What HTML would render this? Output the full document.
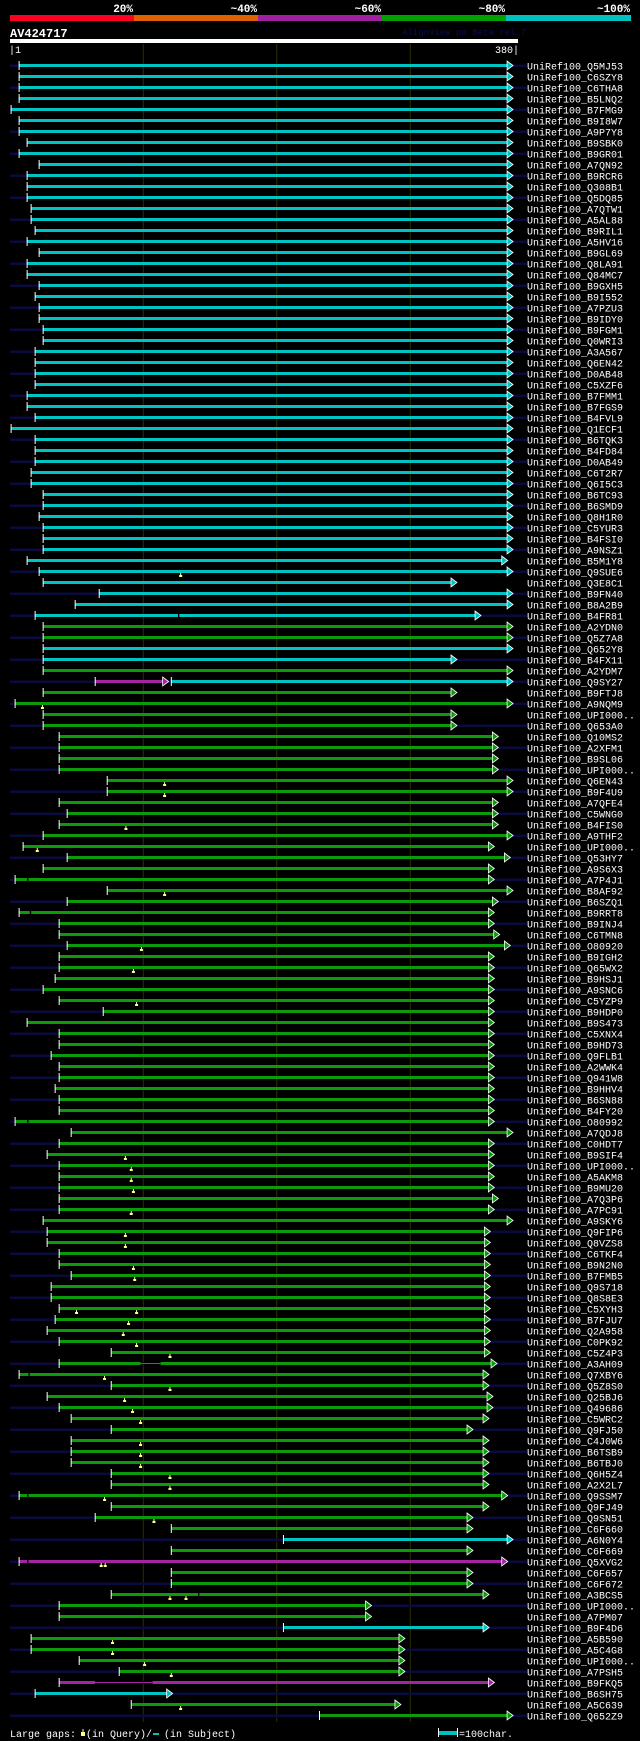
<!DOCTYPE html>
<html><head><meta charset="utf-8"><title>AV424717 alignment</title>
<style>
html,body{margin:0;padding:0;background:#000;}
svg{display:block;}
text{font-family:"Liberation Mono","DejaVu Sans Mono",monospace;}
</style></head>
<body>
<svg id="chart" width="640" height="1741" viewBox="0 0 640 1741" xmlns="http://www.w3.org/2000/svg">
<rect x="0" y="0" width="640" height="1741" fill="#000"/>
<g>
<rect x="10" y="15" width="124" height="6" fill="#ff0022"/>
<rect x="134" y="15" width="124" height="6" fill="#e06000"/>
<rect x="258" y="15" width="124" height="6" fill="#a020a0"/>
<rect x="382" y="15" width="124" height="6" fill="#00a000"/>
<rect x="506" y="15" width="125" height="6" fill="#00c0c0"/>
<text x="133" y="12" fill="#fff" font-size="11" font-weight="bold" text-anchor="end">20%</text>
<text x="257" y="12" fill="#fff" font-size="11" font-weight="bold" text-anchor="end">~40%</text>
<text x="381" y="12" fill="#fff" font-size="11" font-weight="bold" text-anchor="end">~60%</text>
<text x="505" y="12" fill="#fff" font-size="11" font-weight="bold" text-anchor="end">~80%</text>
<text x="630" y="12" fill="#fff" font-size="11" font-weight="bold" text-anchor="end">~100%</text>
</g>
<text x="10" y="37" fill="#fff" font-size="12" font-weight="bold">AV424717</text>
<text x="402" y="35" fill="#0c0c50" font-size="9">AlignView.pm Beta rel.7</text>
<rect x="10" y="39" width="508" height="4" fill="#fff"/>
<text x="9" y="53" fill="#fff" font-size="10">|1</text>
<text x="519" y="53" fill="#fff" font-size="10" text-anchor="end">380|</text>
<g id="grid"></g>
<g id="rows"></g>
<g>
<text x="10" y="1737" fill="#fff" font-size="10">Large gaps:</text>
<rect x="81" y="1732" width="4" height="4" fill="#ffff80"/>
<rect x="82.5" y="1729" width="1" height="3" fill="#ffff80"/>
<text x="86" y="1737" fill="#fff" font-size="10">(in Query)/</text>
<rect x="153" y="1733" width="6" height="2" fill="#00c0c0"/>
<text x="164" y="1737" fill="#fff" font-size="10">(in Subject)</text>
<rect x="439" y="1731" width="18" height="4" fill="#00c0c0"/>
<rect x="438" y="1728" width="1" height="9" fill="#fff"/>
<rect x="457" y="1728" width="1" height="9" fill="#fff"/>
<text x="459" y="1737" fill="#fff" font-size="10">=100char.</text>
</g>
</svg>
<script>
const labels = ["Q5MJ53","C6SZY8","C6THA8","B5LNQ2","B7FMG9","B9I8W7","A9P7Y8","B9SBK0","B9GR01","A7QN92","B9RCR6","Q308B1","Q5DQ85","A7QTW1","A5AL88","B9RIL1","A5HV16","B9GL69","Q8LA91","Q84MC7","B9GXH5","B9I552","A7PZU3","B9IDY0","B9FGM1","Q0WRI3","A3A567","Q6EN42","D0AB48","C5XZF6","B7FMM1","B7FGS9","B4FVL9","Q1ECF1","B6TQK3","B4FD84","D0AB49","C6T2R7","Q6I5C3","B6TC93","B6SMD9","Q8H1R0","C5YUR3","B4FSI0","A9NSZ1","B5M1Y8","Q9SUE6","Q3E8C1","B9FN40","B8A2B9","B4FR81","A2YDN0","Q5Z7A8","Q652Y8","B4FX11","A2YDM7","Q9SY27","B9FTJ8","A9NQM9","UPI000..","Q653A0","Q10MS2","A2XFM1","B9SL06","UPI000..","Q6EN43","B9F4U9","A7QFE4","C5WNG0","B4FIS0","A9THF2","UPI000..","Q53HY7","A9S6X3","A7P4J1","B8AF92","B6SZQ1","B9RRT8","B9INJ4","C6TMN8","O80920","B9IGH2","Q65WX2","B9HSJ1","A9SNC6","C5YZP9","B9HDP0","B9S473","C5XNX4","B9HD73","Q9FLB1","A2WWK4","Q941W8","B9HHV4","B6SN88","B4FY20","O80992","A7QDJ8","C0HDT7","B9SIF4","UPI000..","A5AKM8","B9MU20","A7Q3P6","A7PC91","A9SKY6","Q9FIP6","Q8VZS8","C6TKF4","B9N2N0","B7FMB5","Q9S718","Q8S8E3","C5XYH3","B7FJU7","Q2A958","C0PK92","C5Z4P3","A3AH09","Q7XBY6","Q5Z8S0","Q25BJ6","Q49686","C5WRC2","Q9FJ50","C4J0W6","B6TSB9","B6TBJ0","Q6H5Z4","A2X2L7","Q9SSM7","Q9FJ49","Q9SN51","C6F660","A6N0Y4","C6F669","Q5XVG2","C6F657","C6F672","A3BCS5","UPI000..","A7PM07","B9F4D6","A5B590","A5C4G8","UPI000..","A7PSH5","B9FKQ5","B6SH75","A5C639","Q652Z9"];
const hitStart = [7,7,7,7,1,7,7,13,7,22,13,13,13,16,16,19,13,22,13,13,22,19,22,22,25,25,19,19,19,19,13,13,19,1,19,19,19,16,16,25,25,22,25,25,25,13,22,25,67,49,19,25,25,25,25,25,64,25,4,25,25,37,37,37,37,73,73,37,43,37,25,10,43,25,4,73,43,7,37,37,43,37,37,34,25,37,70,13,37,37,31,37,37,34,37,37,4,46,37,28,37,37,37,37,37,25,28,28,37,37,46,31,31,37,34,28,37,76,37,7,76,28,37,46,76,46,46,46,76,76,7,76,64,121,205,121,7,121,121,76,37,37,205,16,16,52,82,37,19,91,232];
const hitEnd = [377,377,377,377,377,377,377,377,377,377,377,377,377,377,377,377,377,377,377,377,377,377,377,377,377,377,377,377,377,377,377,377,377,377,377,377,377,377,377,377,377,377,377,377,377,373,377,335,377,377,353,377,377,377,335,377,119,335,377,335,335,366,366,366,366,377,377,366,366,366,377,363,375,363,363,377,366,363,363,367,375,363,363,363,363,363,363,363,363,363,363,363,363,363,363,363,363,377,363,363,363,363,363,366,363,377,360,360,360,360,360,360,360,360,360,360,360,360,365,359,359,362,362,359,347,359,359,359,359,359,373,359,347,347,377,347,373,347,347,359,271,271,359,296,296,296,296,363,122,293,377];
const hitColorChunks = [
  "cccccccccc","cccccccccc","cccccccccc","cccccccccc","cccccccccc","c",
  "gg","cc","g","m",
  "gggggggggg","gggggggggg","gggggggggg","gggggggggg","gggggggggg","gggggggggg","gggggggggg","ggggggg",
  "c","g","m","ggggg","c","gggg","m","c","gg"
];
const hitColor = hitColorChunks.join('');
const extraRow = [57];
const extraStart = [121];
const extraEnd = [377];
const extraColor = ["c"];
const queryGapRow = [47,59,66,67,70,72,76,81,83,86,100,101,102,103,105,107,108,110,111,114,114,115,116,117,118,120,121,122,123,124,126,127,128,129,130,131,133,137,137,140,140,144,145,146,147,150];
const queryGapPos = [128,24.5,116,116,87,20.6,116,98.6,92.6,95,86.6,91,91,92.6,91,86.6,86.6,92.6,93.6,50,95,89,85,95,120,71,120,86,92,98,98,98,98,120,120,71,108,68.5,71.5,120,132,77,77,101,121,128];
const subjGapRow = [51,75,78,97,119,120,131,137,140,148];
const subjGapFrom = [126,13,15,13,98,14,13,13,141,64];
const subjGapTo = [127,14,16,14,113,15,14,14,142,107];
const gridTicks = [100,200,300];

const COLORS = {c:"#00c4c4", g:"#0a9a0a", m:"#a424a4"};
const NS = "http://www.w3.org/2000/svg";
function xScale(q){ return 11.1 + (q - 1) * 1.335; }
function yRow(r){ return 65.5 + (r - 1) * 11; }
function mk(tag, attrs, parent){
  const el = document.createElementNS(NS, tag);
  for (const k in attrs) el.setAttribute(k, attrs[k]);
  parent.appendChild(el);
  return el;
}
const grid = document.getElementById('grid');
gridTicks.forEach(function(t){
  const ln = mk('line', {x1: xScale(t), x2: xScale(t), y1: 44, y2: 1722, stroke: '#2e2e00', 'stroke-width': 1}, grid);
  
  
});
const rowsG = document.getElementById('rows');
function drawSeg(g, s, e, col, cy){
  const x1 = xScale(s), x2 = xScale(e);
  const bar = mk('rect', {x: x1, y: cy - 1.5, width: Math.max(0, x2 - 5 - x1), height: 3, fill: col}, g);
  
  
  const tk = mk('rect', {x: x1 - 0.5, y: cy - 4.5, width: 1, height: 9, fill: '#fff'}, g);
  
  
  const ar = mk('polygon', {points: (x2 - 6) + ',' + (cy - 4.5) + ' ' + x2 + ',' + cy + ' ' + (x2 - 6) + ',' + (cy + 4.5), fill: col, stroke: '#fff', 'stroke-width': 0.8}, g);
  
  
}
for (let i = 0; i < labels.length; i++){
  const r = i + 1, cy = yRow(r);
  const g = mk('g', {}, rowsG);
  
  
  if (i % 2 === 0){
    const st = mk('rect', {x: 10, y: cy - 1, width: 517, height: 2.5, fill: '#0a0a3c'}, g);
    
    
  }
  drawSeg(g, hitStart[i], hitEnd[i], COLORS[hitColor[i]], cy);
  extraRow.forEach(function(er, k){ if (er === r) drawSeg(g, extraStart[k], extraEnd[k], COLORS[extraColor[k]], cy); });
  const tx = mk('text', {x: 527, y: cy + 4, fill: '#fff', 'font-size': 10}, g);
  tx.textContent = 'UniRef100_' + labels[i];
  
  
}
subjGapRow.forEach(function(r, k){
  const cy = yRow(r), x1 = xScale(subjGapFrom[k]), x2 = xScale(subjGapTo[k]);
  const gp = mk('rect', {x: x1, y: cy - 1.5, width: x2 - x1, height: 3, fill: '#000'}, rowsG);
  
  
  if (x2 - x1 > 4){
    const col = COLORS[hitColor[r - 1]];
    const th = mk('rect', {x: x1, y: cy - 0.5, width: x2 - x1, height: 1, fill: col}, rowsG);
    
    
  }
});
queryGapRow.forEach(function(r, k){
  const cy = yRow(r), x = xScale(queryGapPos[k]);
  const m1 = mk('rect', {x: x - 1.5, y: cy + 3.5, width: 3, height: 2, fill: '#ffff80'}, rowsG);
  
  
  const m2 = mk('rect', {x: x - 0.5, y: cy + 1.5, width: 1, height: 2, fill: '#ffff80'}, rowsG);
  
  
});
</script>
</body></html>
